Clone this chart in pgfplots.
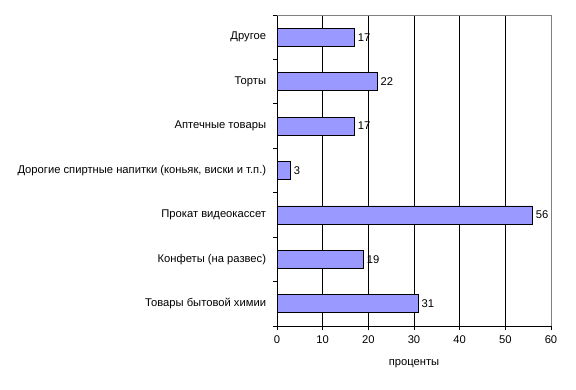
\documentclass[border=0pt]{standalone}
\usepackage{fontspec}
\setmainfont{Liberation Sans}
\usepackage{pgfplots}
\pgfplotsset{compat=1.18}
\definecolor{barfill}{RGB}{153,153,255}
\begin{document}
\fontsize{11.25}{13}\selectfont
\begin{tikzpicture}
\useasboundingbox (0,0) rectangle (576bp,390bp);
\begin{axis}[
  at={(277bp,64bp)}, anchor=south west,
  scale only axis, width=274bp, height=311bp,
  xbar, bar width=18bp,
  xmin=0, xmax=60, ymin=-0.5, ymax=6.5,
  xtick={0,10,...,60},
  ytick={0,...,6},
  yticklabels={Товары бытовой химии,Конфеты (на развес),Прокат видеокассет,{Дорогие спиртные напитки (коньяк, виски и т.п.)},Аптечные товары,Торты,Другое},
  minor ytick={-0.5,0.5,...,6.5},
  major y tick style={draw=none},
  minor y tick style={black, line width=0.8bp},
  minor tick length=4bp,
  major tick length=4bp,
  x tick style={black, line width=0.8bp},
  tick align=outside,
  xmajorgrids, major x grid style={black, line width=0.8bp},
  axis lines*=left,
  axis line style={black, line width=0.8bp, -},
  /pgf/number format/assume math mode=true,
  tick label style={font=\fontsize{11.25}{13}\selectfont},
  yticklabel style={xshift=-3bp},
  xticklabel style={yshift=-2bp},
  xlabel={проценты},
  xlabel style={font=\fontsize{11.25}{13}\selectfont, yshift=-8bp},
  nodes near coords,
  nodes near coords style={anchor=west, xshift=-1bp, font=\fontsize{11.25}{13}\selectfont},
  clip=false,
]
\draw[gray, line width=0.8bp] (rel axis cs:0,1) -- (rel axis cs:1,1) -- (rel axis cs:1,0);
\addplot[fill=barfill, draw=black, line width=0.8bp] coordinates {
  (31,0) (19,1) (56,2) (3,3) (17,4) (22,5) (17,6)
};
\end{axis}
\end{tikzpicture}
\end{document}
